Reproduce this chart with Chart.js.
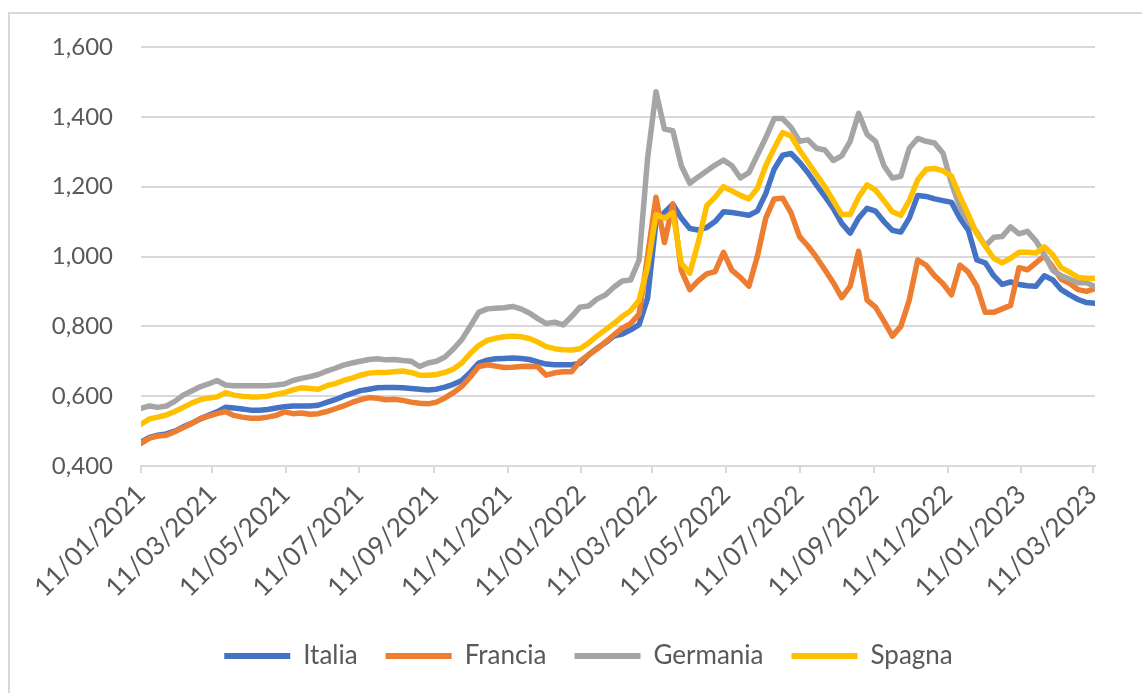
<!DOCTYPE html>
<html>
<head>
<meta charset="utf-8">
<script src="https://cdn.jsdelivr.net/npm/chart.js@4.4.1/dist/chart.umd.min.js"></script>
<style>
  html, body { margin: 0; padding: 0; background: #ffffff; }
  #frame { position: relative; width: 1142px; height: 693px; overflow: hidden; }
  #border { position: absolute; left: 8px; top: 12px; width: 1200px; height: 800px;
            border: 2px solid #d9d9d9; box-sizing: border-box; }
  #wrap { position: absolute; left: 0; top: 0; width: 1142px; height: 693px; }
</style>
</head>
<body>
<div id="frame">
  <div id="border"></div>
  <div id="wrap"><canvas id="c"></canvas></div>
</div>
<script>
// Weekly series, one value per Monday starting 11/01/2021
const firstWeek = '2021-01-11';
const weekCount = 114;

const tickLabels = [
  '11/01/2021', '11/03/2021', '11/05/2021', '11/07/2021', '11/09/2021', '11/11/2021',
  '11/01/2022', '11/03/2022', '11/05/2022', '11/07/2022', '11/09/2022', '11/11/2022',
  '11/01/2023', '11/03/2023'
];

const seriesNames = ['Italia', 'Francia', 'Germania', 'Spagna'];
const seriesColors = ['#4472C4', '#ED7D31', '#A5A5A5', '#FFC000'];

const italia = [
  0.468, 0.482, 0.488, 0.492, 0.500, 0.512, 0.522, 0.535, 0.545, 0.555,
  0.568, 0.566, 0.563, 0.560, 0.560, 0.562, 0.566, 0.570, 0.572, 0.572,
  0.572, 0.574, 0.582, 0.590, 0.600, 0.608, 0.616, 0.620, 0.624, 0.625,
  0.625, 0.624, 0.622, 0.620, 0.618, 0.620, 0.626, 0.634, 0.645, 0.668,
  0.695, 0.703, 0.707, 0.708, 0.709, 0.708, 0.705, 0.698, 0.692, 0.690,
  0.690, 0.690, 0.694, 0.718, 0.737, 0.753, 0.772, 0.778, 0.790, 0.805,
  0.880, 1.100, 1.126, 1.150, 1.110, 1.080, 1.076, 1.083, 1.100, 1.128,
  1.126, 1.122, 1.118, 1.130, 1.180, 1.250, 1.290, 1.295, 1.270, 1.240,
  1.205, 1.172, 1.138, 1.095, 1.067, 1.110, 1.138, 1.130, 1.100, 1.075,
  1.070, 1.110, 1.175, 1.172, 1.165, 1.160, 1.155, 1.110, 1.075, 0.990,
  0.982, 0.945, 0.920, 0.927, 0.920, 0.916, 0.915, 0.945, 0.933, 0.905,
  0.890, 0.877, 0.868, 0.866
];

const francia = [
  0.465, 0.480, 0.486, 0.488, 0.498, 0.510, 0.522, 0.535, 0.543, 0.550,
  0.556, 0.545, 0.540, 0.537, 0.537, 0.540, 0.545, 0.555, 0.550, 0.552,
  0.548, 0.550, 0.556, 0.564, 0.572, 0.582, 0.590, 0.596, 0.594, 0.590,
  0.591, 0.588, 0.583, 0.580, 0.578, 0.583, 0.595, 0.610, 0.628, 0.655,
  0.685, 0.690, 0.686, 0.682, 0.683, 0.685, 0.686, 0.684, 0.660, 0.667,
  0.670, 0.670, 0.700, 0.718, 0.735, 0.755, 0.775, 0.795, 0.808, 0.835,
  1.000, 1.170, 1.040, 1.150, 0.960, 0.905, 0.930, 0.950, 0.957, 1.012,
  0.960, 0.940, 0.915, 1.000, 1.110, 1.165, 1.167, 1.125, 1.057, 1.030,
  0.998, 0.962, 0.925, 0.882, 0.915, 1.015, 0.875, 0.855, 0.815, 0.772,
  0.800, 0.875, 0.990, 0.975, 0.945, 0.922, 0.890, 0.975, 0.955, 0.915,
  0.840, 0.840, 0.850, 0.860, 0.968, 0.962, 0.982, 1.002, 0.970, 0.935,
  0.923, 0.905, 0.900, 0.908
];

const germania = [
  0.565, 0.572, 0.568, 0.572, 0.585, 0.603, 0.615, 0.627, 0.635, 0.645,
  0.632, 0.630, 0.630, 0.630, 0.630, 0.630, 0.632, 0.635, 0.645, 0.651,
  0.656, 0.662, 0.672, 0.680, 0.689, 0.695, 0.700, 0.705, 0.707, 0.704,
  0.705, 0.702, 0.700, 0.685, 0.695, 0.700, 0.712, 0.735, 0.762, 0.800,
  0.840, 0.850, 0.852, 0.853, 0.857, 0.850, 0.838, 0.822, 0.808, 0.812,
  0.804, 0.828, 0.855, 0.858, 0.878, 0.890, 0.912, 0.930, 0.933, 0.990,
  1.280, 1.472, 1.365, 1.360, 1.260, 1.210, 1.228, 1.245, 1.262, 1.276,
  1.260, 1.225, 1.240, 1.290, 1.340, 1.395, 1.395, 1.370, 1.330, 1.334,
  1.310, 1.305, 1.275, 1.288, 1.330, 1.410, 1.350, 1.330, 1.260, 1.225,
  1.230, 1.310, 1.338, 1.330, 1.325, 1.296, 1.210, 1.140, 1.100, 1.070,
  1.030, 1.055, 1.057, 1.085, 1.065, 1.072, 1.045, 1.005, 0.960, 0.945,
  0.935, 0.925, 0.925, 0.914
];

const spagna = [
  0.520, 0.535, 0.540, 0.546, 0.556, 0.568, 0.580, 0.590, 0.595, 0.598,
  0.610, 0.603, 0.600, 0.598, 0.598, 0.600, 0.605, 0.610, 0.618, 0.624,
  0.622, 0.620, 0.630, 0.636, 0.645, 0.652, 0.660, 0.666, 0.668, 0.668,
  0.670, 0.672, 0.668, 0.660, 0.660, 0.662, 0.668, 0.678, 0.695, 0.722,
  0.745, 0.760, 0.766, 0.770, 0.772, 0.770, 0.765, 0.755, 0.742, 0.736,
  0.733, 0.732, 0.736, 0.752, 0.772, 0.790, 0.808, 0.828, 0.845, 0.875,
  0.970, 1.120, 1.110, 1.125, 0.981, 0.952, 1.040, 1.145, 1.170, 1.200,
  1.188, 1.175, 1.165, 1.195, 1.260, 1.310, 1.355, 1.345, 1.305, 1.270,
  1.235, 1.200, 1.160, 1.120, 1.120, 1.170, 1.205, 1.190, 1.160, 1.128,
  1.118, 1.160, 1.220, 1.250, 1.252, 1.245, 1.230, 1.172, 1.120, 1.065,
  1.030, 0.995, 0.982, 0.995, 1.012, 1.012, 1.010, 1.028, 1.005, 0.968,
  0.955, 0.940, 0.938, 0.938
];

const yMin = 0.4, yMax = 1.6, yStep = 0.2;

// ---- date helpers: the x axis counts days from the first week ----
const DAY_MS = 86400000;
function isoToUtc(s) { const [y, m, d] = s.split('-').map(Number); return Date.UTC(y, m - 1, d); }
function itToUtc(s) { const [d, m, y] = s.split('/').map(Number); return Date.UTC(y, m - 1, d); }
const origin = isoToUtc(firstWeek);
const weekDays = Array.from({ length: weekCount }, (_, i) => i * 7);
const tickDays = tickLabels.map(s => Math.round((itToUtc(s) - origin) / DAY_MS));
const toPoints = arr => arr.map((v, i) => ({ x: weekDays[i], y: v }));

const valueSets = [italia, francia, germania, spagna];
const datasets = valueSets.map((vals, k) => ({
  label: seriesNames[k],
  data: toPoints(vals),
  borderColor: seriesColors[k],
  backgroundColor: seriesColors[k],
  borderWidth: 5.5,
  pointRadius: 0,
  pointHoverRadius: 0,
  tension: 0,
  borderJoinStyle: 'round',
  borderCapStyle: 'round',
  order: valueSets.length - k   // later series drawn above earlier ones
}));

const FONT = 'Lato, "Noto Sans", sans-serif';
const TEXT = '#595959';
const GRID = '#d9d9d9';

// nudges the legend row sideways after layout
const legendShift = {
  id: 'legendShift',
  afterLayout(chart, args, opts) {
    const lg = chart.legend;
    if (!lg) return;
    lg.left += opts.dx;
    lg.right += opts.dx;
  }
};

new Chart(document.getElementById('c'), {
  type: 'line',
  data: { datasets },
  plugins: [legendShift],
  options: {
    responsive: true,
    maintainAspectRatio: false,
    animation: false,
    devicePixelRatio: 1,
    layout: { padding: { left: 40, right: 47, top: 47, bottom: 14 } },
    plugins: {
      tooltip: { enabled: false },
      legendShift: { dx: 21 },
      legend: {
        position: 'bottom',
        labels: {
          font: { family: FONT, size: 26 },
          color: TEXT,
          boxWidth: 66,
          boxHeight: 6,
          useBorderRadius: true,
          borderRadius: 3,
          padding: 28,
          generateLabels(chart) {
            return chart.data.datasets.map((ds, i) => ({
              text: ds.label,
              fillStyle: ds.borderColor,
              strokeStyle: ds.borderColor,
              lineWidth: 0,
              fontColor: TEXT,
              hidden: false,
              datasetIndex: i
            }));
          }
        }
      }
    },
    scales: {
      x: {
        type: 'linear',
        min: 0,
        max: weekDays[weekDays.length - 1],
        afterBuildTicks(axis) { axis.ticks = tickDays.map(v => ({ value: v })); },
        afterFit(axis) { axis.height += 6; },
        ticks: {
          autoSkip: false,
          minRotation: 45,
          maxRotation: 45,
          padding: 6,
          color: TEXT,
          font: { family: FONT, size: 26 },
          callback: (v, i) => tickLabels[i]
        },
        grid: { drawOnChartArea: false, drawTicks: true, tickLength: 7, color: GRID, lineWidth: 2 },
        border: { display: true, color: GRID, width: 2 }
      },
      y: {
        min: yMin,
        max: yMax,
        afterFit(axis) { axis.width = 101; },
        ticks: {
          stepSize: yStep,
          padding: 28,
          color: TEXT,
          font: { family: FONT, size: 24 },
          callback: v => v.toFixed(3).replace('.', ',')
        },
        grid: { color: GRID, lineWidth: 2, drawTicks: false },
        border: { display: false }
      }
    }
  }
});
</script>
</body>
</html>
